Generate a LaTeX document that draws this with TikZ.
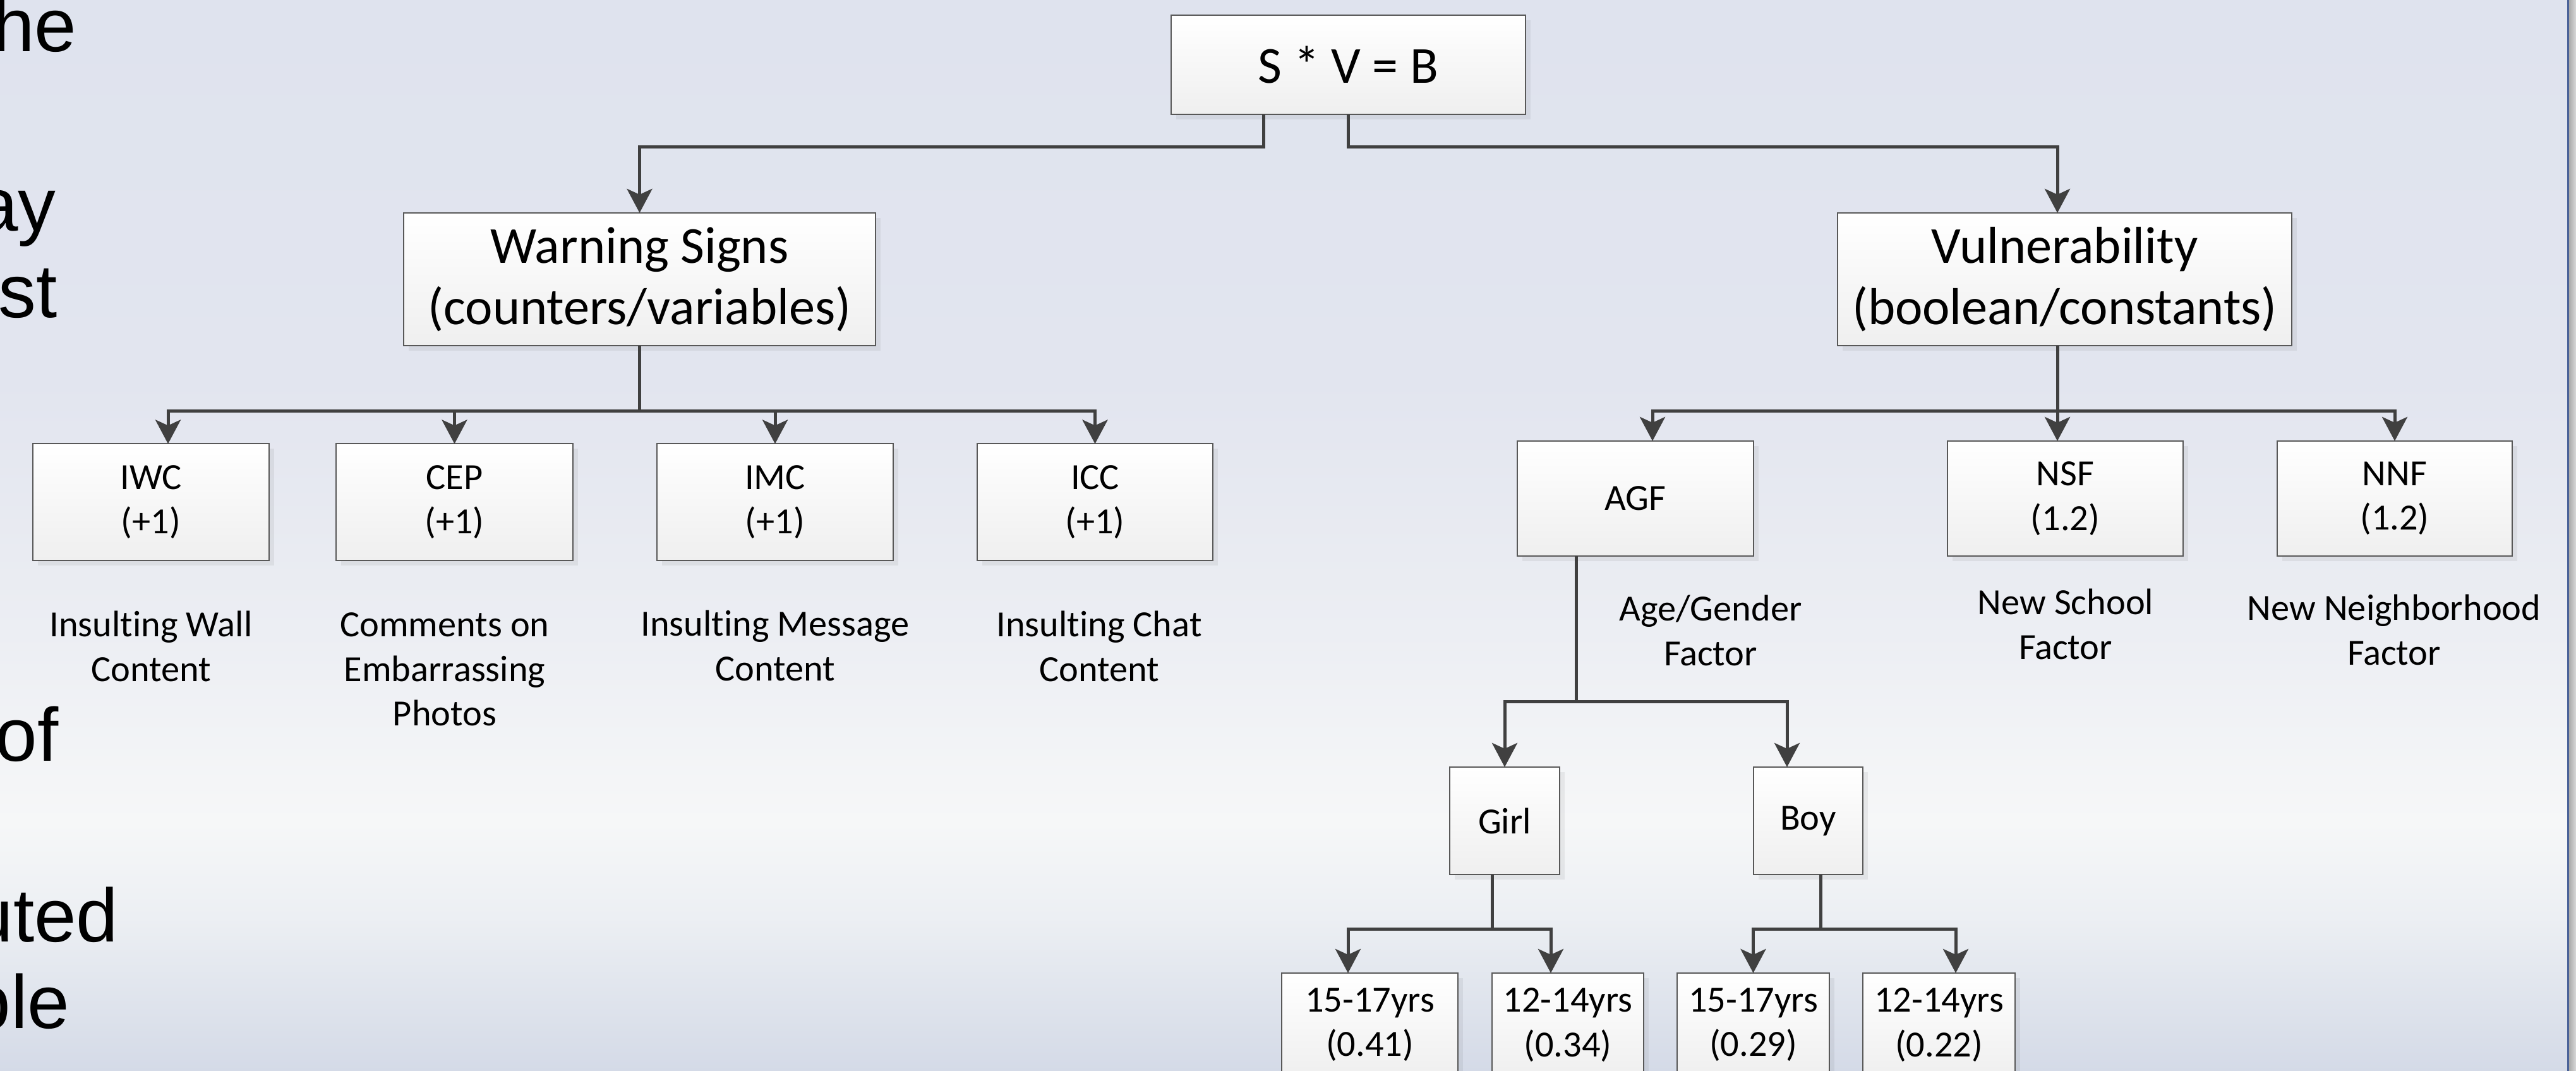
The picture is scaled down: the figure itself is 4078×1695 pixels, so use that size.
\documentclass[tikz,border=0pt]{standalone}
\usepackage{fontspec}
\setmainfont{Carlito}[Ligatures=NoCommon]
\newfontfamily\slidefont{Liberation Sans}
\usetikzlibrary{arrows.meta,shadows}
\definecolor{bgtop}{RGB}{223,227,238}
\definecolor{bgla}{RGB}{226,229,239}
\definecolor{bglb}{RGB}{236,238,243}
\definecolor{bgmid}{RGB}{246,247,248}
\definecolor{bglc}{RGB}{236,239,243}
\definecolor{bgbot}{RGB}{212,218,231}
\definecolor{boxbot}{RGB}{239,239,239}
\definecolor{boxline}{RGB}{88,88,88}
\definecolor{conncol}{RGB}{64,64,64}
\definecolor{edgeblue}{RGB}{74,98,152}
\pgfdeclareverticalshading{slidebg}{100bp}{color(0bp)=(bgbot); color(25bp)=(bgbot); color(32.2bp)=(bglc); color(36.6bp)=(bgmid); color(45.5bp)=(bglb); color(57.3bp)=(bgla); color(75bp)=(bgtop); color(100bp)=(bgtop)}
\newcommand\lbl[1]{\begin{tabular}[t]{@{}c@{}}#1\end{tabular}}
\begin{document}
\begin{tikzpicture}[x=0.01cm,y=-0.01cm,
  smallf/.style={font=\fontsize{16.6}{20}\selectfont},
  bigf/.style={font=\fontsize{23.4}{27.6}\selectfont},
  box/.style={draw=boxline, line width=0.02cm, top color=white, bottom color=boxbot,
    inner sep=0pt, outer sep=0pt, align=center,
    general shadow={shadow xshift=0.08cm, shadow yshift=-0.08cm, fill=black, opacity=0.06}},
  sbox/.style={box, smallf},
  bbox/.style={box, bigf},
  lab/.style={smallf, inner sep=0pt, anchor=base},
  slide/.style={font=\slidefont\fontsize{34}{40}\selectfont, inner sep=0pt, anchor=base east},
  conn/.style={draw=conncol, line width=0.05cm},
  arr/.style={conn, -{Stealth[length=0.38cm,width=0.40cm,inset=0.09cm]}}
]
\useasboundingbox (0,0) rectangle (4078,1695);
\clip (0,0) rectangle (4078,1695);
\shade[shading=slidebg] (0,0) rectangle (4078,1695);

% cut-off slide text on the left
\node[slide] (s1) at (122,82) {he};
\node[slide] (s2) at (89,366) {ay};
\node[slide] (s3) at (91,503) {st};
\node[slide] (s4) at (93,1205) {of};
\node[slide] (s5) at (188,1490) {uted};
\node[slide] (s6) at (111,1627) {ple};

% right edge of slide
\shade[left color=black!35, right color=black!15] (4066,0) rectangle (4078,1695);
\draw[edgeblue, line width=0.03cm] (4065,0) -- (4065,1695);

% boxes
\node[bbox, minimum width=5.61cm, minimum height=1.57cm] (top) at (2134.5,102.5) {S * V = B};
\node[bbox, minimum width=7.47cm, minimum height=2.10cm] (warn) at (1012.5,442) {Warning Signs\\(counters/variables)};
\node[bbox, minimum width=7.19cm, minimum height=2.10cm] (vuln) at (3268.5,442) {Vulnerability\\(boolean/constants)};

\node[sbox, minimum width=3.74cm, minimum height=1.84cm] (iwc) at (239,794.5) {IWC\\(+1)};
\node[sbox, minimum width=3.75cm, minimum height=1.84cm] (cep) at (719.5,794.5) {CEP\\(+1)};
\node[sbox, minimum width=3.74cm, minimum height=1.84cm] (imc) at (1227,794.5) {IMC\\(+1)};
\node[sbox, minimum width=3.73cm, minimum height=1.84cm] (icc) at (1733.5,794.5) {ICC\\(+1)};

\node[sbox, minimum width=3.74cm, minimum height=1.82cm] (agf) at (2589,789) {AGF};
\node[sbox, minimum width=3.73cm, minimum height=1.82cm] (nsf) at (3269.5,789) {NSF\\(1.2)};
\node[sbox, minimum width=3.72cm, minimum height=1.82cm] (nnf) at (3791,789) {NNF\\(1.2)};

\node[sbox, minimum width=1.74cm, minimum height=1.70cm] (girl) at (2382,1299) {Girl};
\node[sbox, minimum width=1.73cm, minimum height=1.70cm] (boy) at (2862.5,1299) {Boy};

\node[sbox, minimum width=2.79cm, minimum height=1.64cm] (g1) at (2168.5,1622) {15-17yrs\\(0.41)};
\node[sbox, minimum width=2.40cm, minimum height=1.64cm] (g2) at (2482,1622) {12-14yrs\\(0.34)};
\node[sbox, minimum width=2.41cm, minimum height=1.64cm] (b1) at (2775.5,1622) {15-17yrs\\(0.29)};
\node[sbox, minimum width=2.41cm, minimum height=1.64cm] (b2) at (3069.5,1622) {12-14yrs\\(0.22)};

% labels
\node[lab] (lwall) at (239,1008) {\lbl{Insulting Wall\\Content}};
\node[lab] (lcep) at (704,1008) {\lbl{Comments on\\Embarrassing\\Photos}};
\node[lab] (limc) at (1227,1007) {\lbl{Insulting Message\\Content}};
\node[lab] (licc) at (1740,1008) {\lbl{Insulting Chat\\Content}};
\node[lab] (lagf) at (2708,983) {\lbl{Age/Gender\\Factor}};
\node[lab] (lnsf) at (3270,973) {\lbl{New School\\Factor}};
\node[lab] (lnnf) at (3790,982) {\lbl{New Neighborhood\\Factor}};

% connectors
\draw[arr] ([xshift=-1.335cm]top.south) -- ++(0,51) -| (warn.north);
\draw[arr] (top.south) -- ++(0,51) -| ([xshift=-0.115cm]vuln.north);

\draw[arr] (warn.south) -- ++(0,103) -| ([xshift=0.27cm]iwc.north);
\draw[arr] (warn.south) -- ++(0,103) -| (cep.north);
\draw[arr] (warn.south) -- ++(0,103) -| (imc.north);
\draw[arr] (warn.south) -- ++(0,103) -| (icc.north);

\draw[arr] ([xshift=-0.115cm]vuln.south) -- ++(0,103) -| ([xshift=0.27cm]agf.north);
\draw[arr] ([xshift=-0.115cm]vuln.south) -- ([xshift=-0.125cm]nsf.north);
\draw[arr] ([xshift=-0.115cm]vuln.south) -- ++(0,103) -| (nnf.north);

\draw[arr] ([xshift=-0.93cm]agf.south) -- ++(0,230) -| (girl.north);
\draw[arr] ([xshift=-0.93cm]agf.south) -- ++(0,230) -| ([xshift=-0.335cm]boy.north);

\draw[arr] ([xshift=-0.2cm]girl.south) -- ++(0,86) -| ([xshift=-0.345cm]g1.north);
\draw[arr] ([xshift=-0.2cm]girl.south) -- ++(0,86) -| ([xshift=-0.27cm]g2.north);
\draw[arr] ([xshift=0.195cm]boy.south) -- ++(0,86) -| (b1.north);
\draw[arr] ([xshift=0.195cm]boy.south) -- ++(0,86) -| ([xshift=0.265cm]b2.north);
\end{tikzpicture}
\end{document}
